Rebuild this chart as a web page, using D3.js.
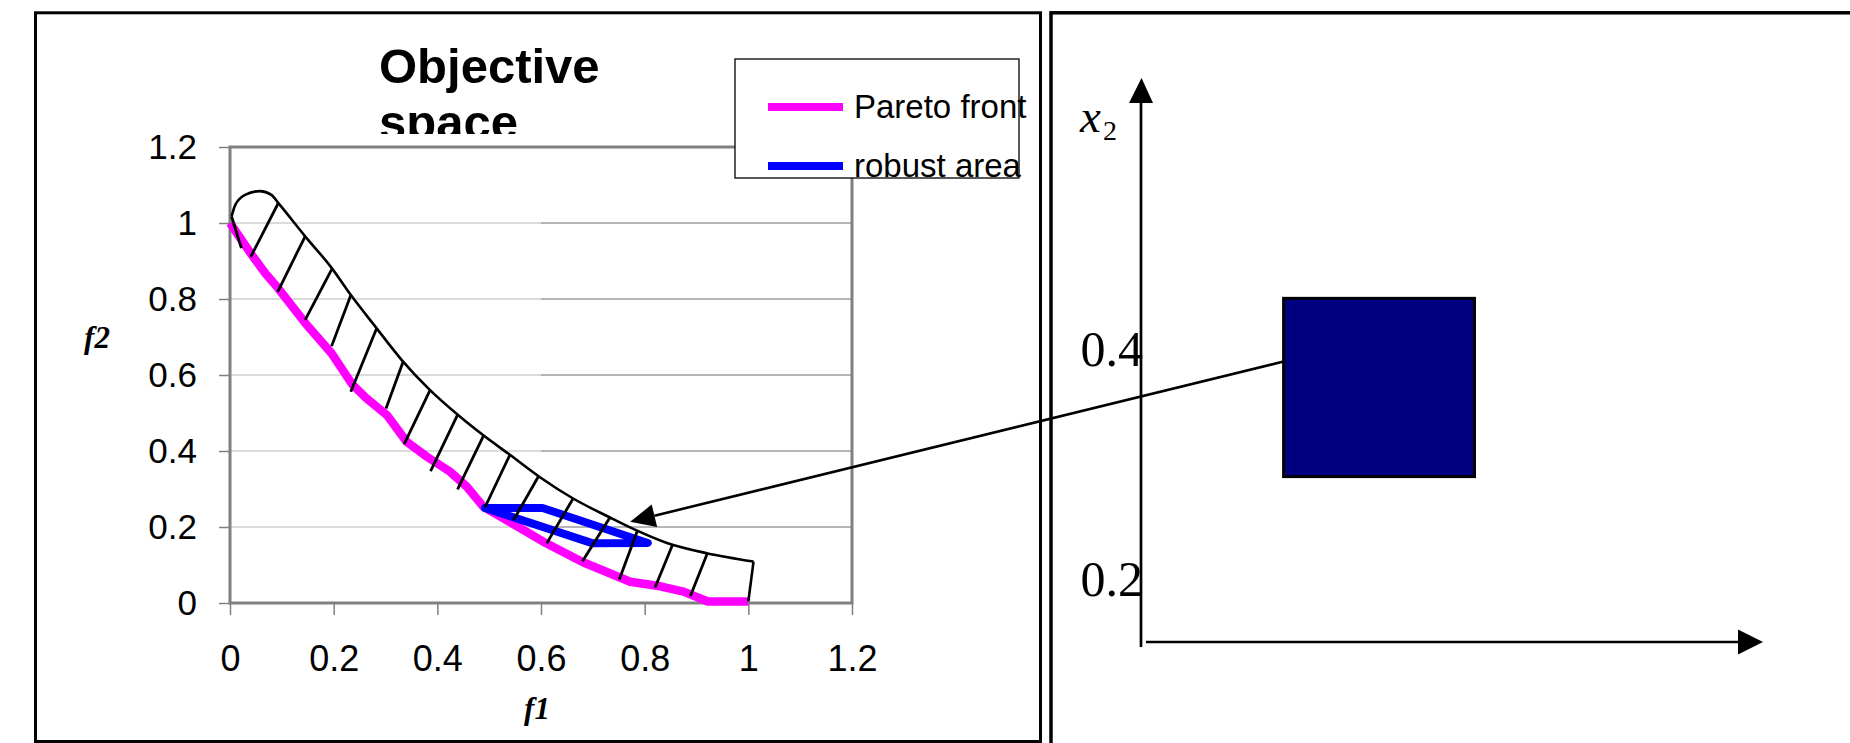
<!DOCTYPE html>
<html>
<head>
  <meta charset="utf-8">
  <title>Objective space and decision space</title>
  <script src="https://d3js.org/d3.v7.min.js"></script>
  <style>
    body {
      margin: 0;
      background: #fff;
    }

    svg {
      display: block;
    }

    .sans {
      font-family: "Liberation Sans", Arial, sans-serif;
    }

    .serif {
      font-family: "Liberation Serif", "Times New Roman", serif;
    }
  </style>
</head>

<body>
  <div id="svg-container"></div>
  <script>
    // objective space axes
    const f1Ticks = [0, 0.2, 0.4, 0.6, 0.8, 1, 1.2];
    const f2Ticks = [0, 0.2, 0.4, 0.6, 0.8, 1, 1.2];
    const gridValues = [0.2, 0.4, 0.6, 0.8, 1];

    // Pareto front (f1, f2)
    const paretoFront = [
      [0, 1.0], [0.04, 0.92], [0.068, 0.868], [0.093, 0.828], [0.145, 0.737],
      [0.196, 0.657], [0.236, 0.575], [0.262, 0.54], [0.303, 0.494], [0.341, 0.424],
      [0.38, 0.385], [0.424, 0.346], [0.457, 0.306], [0.489, 0.253], [0.544, 0.21],
      [0.61, 0.157], [0.68, 0.108], [0.772, 0.056], [0.83, 0.044], [0.875, 0.03],
      [0.922, 0.004], [1.0, 0.004]
    ];

    // outer boundary of the hatched region
    const upperBound = [
      [0.003, 1.017], [0.01, 1.047], [0.029, 1.074], [0.058, 1.084], [0.08, 1.074],
      [0.093, 1.053], [0.145, 0.965], [0.196, 0.882], [0.235, 0.807], [0.28, 0.728],
      [0.331, 0.64], [0.383, 0.564], [0.444, 0.49], [0.49, 0.44], [0.54, 0.39],
      [0.598, 0.331], [0.662, 0.275], [0.733, 0.225], [0.778, 0.195], [0.843, 0.158],
      [0.92, 0.131], [1.01, 0.109]
    ];
    const boundEdge = [[1.01, 0.109], [1.0, 0.004]];

    // hatch strokes, each [from, to]
    const hatches = [
      [[0.003, 1.017], [0.022, 0.934]],
      [[0.04, 0.911], [0.093, 1.052]],
      [[0.092, 0.819], [0.145, 0.965]],
      [[0.145, 0.745], [0.197, 0.88]],
      [[0.196, 0.676], [0.233, 0.81]],
      [[0.233, 0.556], [0.283, 0.723]],
      [[0.301, 0.512], [0.334, 0.635]],
      [[0.336, 0.418], [0.386, 0.56]],
      [[0.387, 0.347], [0.439, 0.495]],
      [[0.439, 0.299], [0.489, 0.44]],
      [[0.492, 0.252], [0.54, 0.39]],
      [[0.547, 0.218], [0.595, 0.333]],
      [[0.611, 0.157], [0.662, 0.275]],
      [[0.68, 0.11], [0.733, 0.225]],
      [[0.751, 0.062], [0.786, 0.19]],
      [[0.82, 0.041], [0.854, 0.154]],
      [[0.888, 0.018], [0.921, 0.131]]
    ];

    // robust area outline
    const robustArea = [
      [0.492, 0.25], [0.603, 0.25], [0.806, 0.158], [0.7, 0.157], [0.492, 0.25]
    ];

    const legendItems = [
      { label: "Pareto front", color: "#ff00ff" },
      { label: "robust area", color: "#0000ff" }
    ];

    // decision space
    const x2Ticks = [0.2, 0.4];
    const boxX1 = [0.124, 0.29];
    const boxX2 = [0.286, 0.441];
    const arrowFrom = [0.124, 0.386];   // (x1, x2) in decision space
    const arrowTo = [0.772, 0.214];     // (f1, f2) in objective space

    const svg = d3.select("#svg-container").append("svg")
      .attr("width", 1850)
      .attr("height", 743);

    const x = d3.scaleLinear().domain([0, 1.2]).range([230, 852]);
    const y = d3.scaleLinear().domain([0, 1.2]).range([603, 147]);

    const dx = d3.scaleLinear().domain([0, 0.54]).range([1141, 1762]);
    const dy = d3.scaleLinear().domain([0.2, 0.4]).range([575.5, 345.5]);

    // panels
    svg.append("rect")
      .attr("x", 35.5).attr("y", 12.8)
      .attr("width", 1005).attr("height", 728.7)
      .attr("fill", "none").attr("stroke", "#000").attr("stroke-width", 3);
    svg.append("rect")
      .attr("x", 1051).attr("y", 12.8)
      .attr("width", 900).attr("height", 800)
      .attr("fill", "none").attr("stroke", "#000").attr("stroke-width", 3.5);

    // title, clipped like the original box
    svg.append("clipPath").attr("id", "titleClip")
      .append("rect").attr("x", 300).attr("y", 20).attr("width", 400).attr("height", 114);
    const title = svg.append("text")
      .attr("class", "sans")
      .attr("clip-path", "url(#titleClip)")
      .attr("font-size", 49)
      .attr("font-weight", "bold");
    title.append("tspan").attr("x", 379).attr("y", 83).text("Objective");
    title.append("tspan").attr("x", 379).attr("y", 139).text("space");

    // gridlines (left half lighter, as in the original)
    const gridG = svg.append("g");
    gridValues.forEach(v => {
      gridG.append("line")
        .attr("x1", x(0)).attr("x2", x(0.6))
        .attr("y1", y(v)).attr("y2", y(v))
        .attr("stroke", "#cfcfcf").attr("stroke-width", 1.6);
      gridG.append("line")
        .attr("x1", x(0.6)).attr("x2", x(1.2))
        .attr("y1", y(v)).attr("y2", y(v))
        .attr("stroke", "#9c9c9c").attr("stroke-width", 1.6);
    });

    // axes
    const yAxis = svg.append("g")
      .attr("transform", `translate(${x(0)},0)`)
      .call(d3.axisLeft(y).tickValues(f2Ticks).tickSize(11).tickPadding(22)
        .tickFormat(d3.format("")));
    const xAxis = svg.append("g")
      .attr("transform", `translate(0,${y(0)})`)
      .call(d3.axisBottom(x).tickValues(f1Ticks).tickSize(12).tickPadding(30)
        .tickFormat(d3.format("")));
    [yAxis, xAxis].forEach(ax => {
      ax.select(".domain").remove();
      ax.selectAll(".tick line").attr("stroke", "#808080").attr("stroke-width", 1.5);
      ax.selectAll(".tick text")
        .attr("class", "sans")
        .attr("fill", "#000")
        .attr("font-family", null);
    });
    yAxis.selectAll(".tick text").attr("font-size", 35);
    xAxis.selectAll(".tick text").attr("font-size", 36);

    // plot frame
    svg.append("rect")
      .attr("x", x(0)).attr("y", y(1.2))
      .attr("width", x(1.2) - x(0)).attr("height", y(0) - y(1.2))
      .attr("fill", "none").attr("stroke", "#808080").attr("stroke-width", 3);

    // axis titles
    svg.append("text")
      .attr("class", "serif")
      .attr("x", 97).attr("y", 348)
      .attr("text-anchor", "middle")
      .attr("font-size", 31).attr("font-style", "italic").attr("font-weight", "bold")
      .text("f2");
    svg.append("text")
      .attr("class", "serif")
      .attr("x", 537).attr("y", 719)
      .attr("text-anchor", "middle")
      .attr("font-size", 31).attr("font-style", "italic").attr("font-weight", "bold")
      .text("f1");

    const line = d3.line().x(d => x(d[0])).y(d => y(d[1]));

    svg.append("path")
      .datum(paretoFront)
      .attr("d", line)
      .attr("fill", "none")
      .attr("stroke", "#ff00ff")
      .attr("stroke-width", 8.5)
      .attr("stroke-linejoin", "round");

    svg.append("path")
      .datum(robustArea)
      .attr("d", line)
      .attr("fill", "none")
      .attr("stroke", "#0000ff")
      .attr("stroke-width", 8)
      .attr("stroke-linejoin", "round")
      .attr("stroke-linecap", "round");

    svg.append("g").selectAll("line")
      .data(hatches)
      .join("line")
      .attr("x1", d => x(d[0][0])).attr("y1", d => y(d[0][1]))
      .attr("x2", d => x(d[1][0])).attr("y2", d => y(d[1][1]))
      .attr("stroke", "#000")
      .attr("stroke-width", 2.8);

    svg.append("path")
      .datum(upperBound)
      .attr("d", line.curve(d3.curveMonotoneX))
      .attr("fill", "none")
      .attr("stroke", "#000")
      .attr("stroke-width", 2.6);
    line.curve(d3.curveLinear);
    svg.append("path")
      .datum(boundEdge)
      .attr("d", line)
      .attr("fill", "none")
      .attr("stroke", "#000")
      .attr("stroke-width", 2.6);

    // legend
    const legend = svg.append("g").attr("transform", "translate(735,59)");
    legend.append("rect")
      .attr("width", 284).attr("height", 119)
      .attr("fill", "#fff").attr("stroke", "#000").attr("stroke-width", 1.3);
    legendItems.forEach((item, i) => {
      const yy = 48 + i * 59;
      legend.append("line")
        .attr("x1", 33).attr("x2", 108)
        .attr("y1", yy).attr("y2", yy)
        .attr("stroke", item.color).attr("stroke-width", 8);
      legend.append("text")
        .attr("class", "sans")
        .attr("x", 119).attr("y", yy + 11)
        .attr("font-size", 33)
        .text(item.label);
    });

    // decision space
    const dg = svg.append("g");
    const axisX = dx(0);
    const axisY = 642;
    dg.append("line")
      .attr("x1", axisX).attr("x2", axisX)
      .attr("y1", axisY + 5).attr("y2", 100)
      .attr("stroke", "#000").attr("stroke-width", 2.7);
    dg.append("path")
      .attr("d", `M${axisX + 0.5},78 L${axisX - 12},103 L${axisX + 12},103 Z`)
      .attr("fill", "#000");
    dg.append("line")
      .attr("x1", axisX + 5).attr("x2", 1740)
      .attr("y1", axisY).attr("y2", axisY)
      .attr("stroke", "#000").attr("stroke-width", 2.7);
    dg.append("path")
      .attr("d", `M1763,${axisY} L1738,${axisY - 12.5} L1738,${axisY + 12.5} Z`)
      .attr("fill", "#000");

    dg.selectAll("text.tick2")
      .data(x2Ticks)
      .join("text")
      .attr("class", "serif tick2")
      .attr("x", axisX + 2)
      .attr("y", d => dy(d))
      .attr("dy", "0.4em")
      .attr("text-anchor", "end")
      .attr("font-size", 50)
      .text(d => d.toFixed(1));

    const xLab = dg.append("text")
      .attr("class", "serif")
      .attr("x", 1080).attr("y", 132);
    xLab.append("tspan").attr("font-size", 47).attr("font-style", "italic").text("x");
    xLab.append("tspan").attr("font-size", 28).attr("dy", 8).attr("dx", 2).text("2");

    dg.append("rect")
      .attr("x", dx(boxX1[0])).attr("y", dy(boxX2[1]))
      .attr("width", dx(boxX1[1]) - dx(boxX1[0]))
      .attr("height", dy(boxX2[0]) - dy(boxX2[1]))
      .attr("fill", "#000080")
      .attr("stroke", "#000").attr("stroke-width", 3);

    // arrow from the robust box to the objective space
    const p0 = [dx(arrowFrom[0]), dy(arrowFrom[1])];
    const p1 = [x(arrowTo[0]), y(arrowTo[1])];
    const ang = Math.atan2(p0[1] - p1[1], p0[0] - p1[0]);
    const headLen = 25, headHalf = 11.5;
    const bx = p1[0] + headLen * Math.cos(ang), by = p1[1] + headLen * Math.sin(ang);
    svg.append("line")
      .attr("x1", p0[0]).attr("y1", p0[1])
      .attr("x2", bx).attr("y2", by)
      .attr("stroke", "#000").attr("stroke-width", 2.6);
    svg.append("path")
      .attr("d", `M${p1[0]},${p1[1]}
        L${bx - headHalf * Math.sin(ang)},${by + headHalf * Math.cos(ang)}
        L${bx + headHalf * Math.sin(ang)},${by - headHalf * Math.cos(ang)} Z`)
      .attr("fill", "#000");
  </script>
</body>

</html>
